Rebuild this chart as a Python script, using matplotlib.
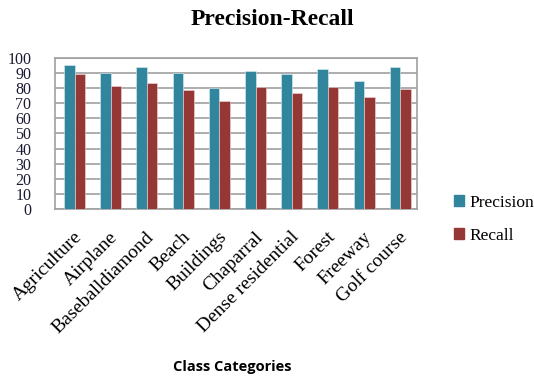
import numpy as np
import matplotlib.pyplot as plt
from matplotlib.patches import Patch

categories = ["Agriculture", "Airplane", "Baseballdiamond", "Beach", "Buildings",
              "Chaparral", "Dense residential", "Forest", "Freeway", "Golf course"]
precision = [95.5, 90, 94, 90, 80, 91, 89.5, 92.5, 84.5, 94]
recall = [89.5, 81.5, 83.5, 79, 71.5, 80.5, 77, 80.5, 74, 79.5]
yticks = list(range(0, 101, 10))

c_p = "#31859C"
c_r = "#953735"
serif = "Liberation Serif"

fig = plt.figure(figsize=(5.34, 3.78), dpi=100)
ax = fig.add_axes([0.103, 0.447, 0.678, 0.400])

x = np.arange(len(categories))
w = 0.29
ax.bar(x - w / 2 + 0.04, precision, w, color=c_p, edgecolor="#d8eef2", linewidth=0.4, zorder=3)
ax.bar(x + w / 2 + 0.04, recall, w, color=c_r, edgecolor="#f0d8d8", linewidth=0.4, zorder=3)

ax.set_xlim(-0.5, len(categories) - 0.5)
ax.set_ylim(0, 100)
ax.set_yticks(yticks)
ax.set_yticklabels([str(v) for v in yticks], fontfamily=serif, fontsize=11.5, color="#1a1a33")
ax.yaxis.grid(True, color="#a0a0a0", linewidth=1.2, zorder=0)
ax.tick_params(axis="y", length=0, pad=17)
ax.tick_params(axis="x", length=0, pad=14)
for s in ax.spines.values():
    s.set_color("#a0a0a0")
    s.set_linewidth(1.2)

ax.set_xticks(x)
ax.set_xticklabels(categories, rotation=45, ha="right", rotation_mode="anchor",
                   fontfamily=serif, fontsize=14)

ax.set_xlabel("Class Categories", fontfamily="Open Sans", fontweight="bold", fontsize=10.5)
ax.xaxis.set_label_coords(0.49, -1.0)

fig.suptitle("Precision-Recall", x=0.51, y=0.975, fontfamily=serif, fontweight="bold", fontsize=17)

handles = [Patch(color=c_p, label="Precision"), Patch(color=c_r, label="Recall")]
fig.legend(handles=handles, loc="center left", bbox_to_anchor=(0.82, 0.42),
           frameon=False, prop={"family": serif, "size": 12.5},
           handlelength=0.6, handleheight=0.6, handletextpad=0.3, labelspacing=1.0)

fig.savefig("out.png", dpi=100)
